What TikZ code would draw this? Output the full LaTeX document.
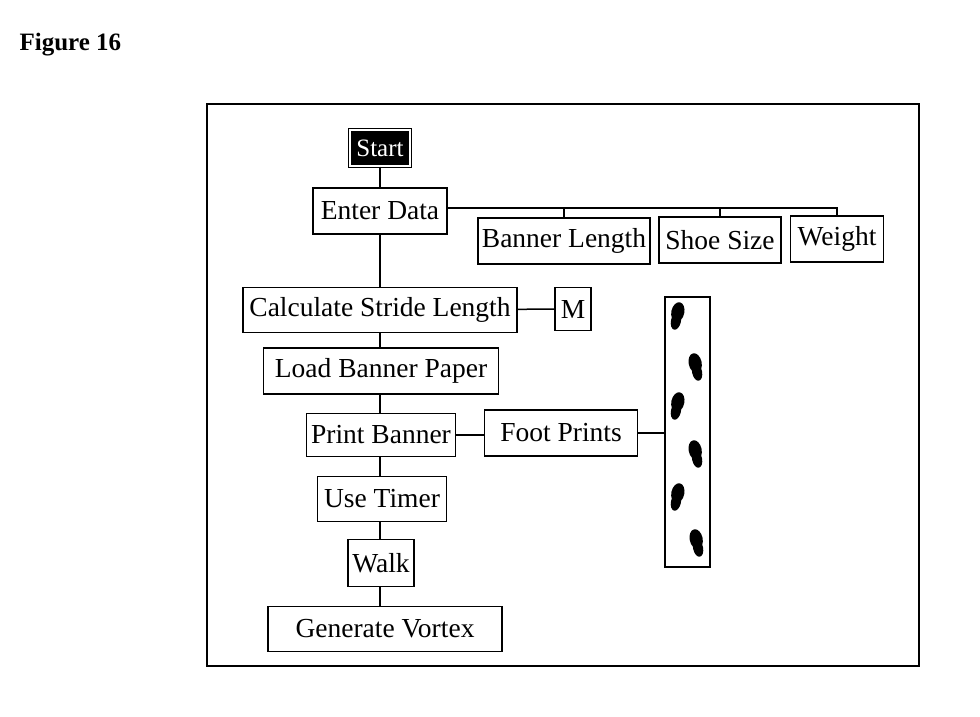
\documentclass[tikz,border=0pt]{standalone}
\usepackage{fontspec}
\setmainfont{Liberation Serif}
\begin{document}
\begin{tikzpicture}[x=1pt,y=-1pt,
  box/.style={draw,line width=1.3pt,inner sep=0pt,font=\fontsize{27.5}{30}\selectfont},
  ln/.style={line width=1.5pt}]
\useasboundingbox (0,0) rectangle (980,716);
\node[font=\bfseries\fontsize{25}{28}\selectfont,anchor=west] (title) at (16,45) {Figure 16};
\node[draw,line width=1.6pt,minimum width=712pt,minimum height=562pt,anchor=north west] (frame) at (206,103) {};
\node[box,fill=black,text=white,double=white,double distance=1.5pt,minimum width=60pt,minimum height=36pt,font=\fontsize{25}{28}\selectfont] (start) at (380,148) {Start};
\node[box,minimum width=134pt,minimum height=46pt] (enter) at (380,211) {Enter Data};
\node[box,minimum width=172pt,minimum height=46pt] (bl) at (564,241) {Banner Length};
\node[box,minimum width=122pt,minimum height=46pt] (ss) at (720,240) {Shoe Size};
\node[box,minimum width=93pt,minimum height=46pt] (wt) at (837,239) {Weight};
\node[box,minimum width=274pt,minimum height=45pt] (calc) at (380,310) {Calculate Stride Length};
\node[box,minimum width=36pt,minimum height=43pt] (m) at (573,309) {M};
\node[box,minimum width=235pt,minimum height=46pt] (load) at (381,371) {Load Banner Paper};
\node[box,minimum width=149pt,minimum height=43pt] (print) at (381,435) {Print Banner};
\node[box,minimum width=153pt,minimum height=46pt] (fp) at (561,433) {Foot Prints};
\node[box,minimum width=129pt,minimum height=45pt] (timer) at (382,499) {Use Timer};
\node[box,minimum width=66pt,minimum height=47pt] (walk) at (381,563) {Walk};
\node[box,minimum width=234pt,minimum height=45pt] (gen) at (385,629) {Generate Vortex};
\node[draw,line width=1.6pt,minimum width=45pt,minimum height=270pt,anchor=north west] (strip) at (664,296) {};
\foreach \x/\y/\r in {677/316/-12,696/367/12,677/406/-12,696/454/12,677/497/-12,697/543/12}
  \fill[rotate around={\r:(\x,\y)}] (\x,\y-4) ellipse (6.5pt and 10pt) (\x,\y+5) ellipse (5pt and 9pt);
\draw[ln] (start) -- (enter);
\draw[ln] (enter) -- (calc);
\foreach \a/\b in {calc/load,load/print,print/timer,timer/walk,walk/gen}
  \draw[ln] (\a.south -| 380,0) -- (\b.north -| 380,0);
\draw[ln] (calc) -- (m);
\draw[ln] (print) -- (print -| fp.west);
\draw[ln] (fp) -- (strip.west |- fp);
\draw[ln] (enter.east |- 0,208) -- (wt.north |- 0,208) -- (wt.north);
\draw[ln] (bl.north |- 0,208) -- (bl.north);
\draw[ln] (ss.north |- 0,208) -- (ss.north);
\end{tikzpicture}
\end{document}
